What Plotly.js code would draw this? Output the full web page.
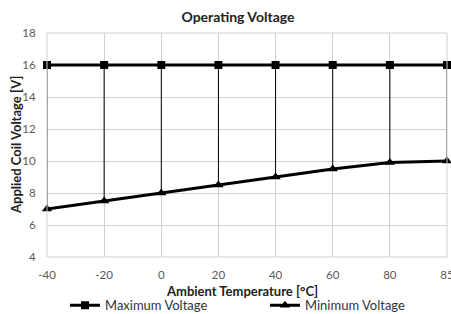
<!DOCTYPE html>
<html><head><meta charset="utf-8">
<script src="https://cdn.plot.ly/plotly-3.0.1.min.js"></script>
<style>html,body{margin:0;padding:0;background:#fff}#c{width:451px;height:314px}</style>
</head><body><div id="c"></div>
<script>
var temps = ['-40','-20','0','20','40','60','80','85'];
var maxVoltage = [16,16,16,16,16,16,16,16];
var minVoltage = [7,7.5,8,8.5,9,9.5,9.9,10];
var diff = maxVoltage.map(function(v,i){return v-minVoltage[i];});
var zeros = minVoltage.map(function(){return 0;});
var fontFam = 'Lato, "Open Sans", sans-serif';
var traces = [
 {x:temps, y:maxVoltage, name:'Maximum Voltage', type:'scatter', mode:'lines+markers', legend:'legend',
  line:{color:'#000',width:3}, marker:{symbol:'square',size:8,color:'#000'}, cliponaxis:false},
 {x:temps, y:minVoltage, name:'Minimum Voltage', type:'scatter', mode:'lines+markers', legend:'legend2',
  line:{color:'#000',width:3}, marker:{symbol:'triangle-up',size:9,color:'#000'}, cliponaxis:false,
  error_y:{type:'data',symmetric:false,array:diff,arrayminus:zeros,width:0,color:'#000',thickness:1}}
];
var legBase = {orientation:'h', xref:'container', yref:'container', xanchor:'left', y:0.028, yanchor:'middle',
  font:{size:13,color:'#333'}, itemwidth:30, bgcolor:'rgba(0,0,0,0)', borderwidth:0};
var layout = {
 width:451, height:314, margin:{l:47,r:4,t:33,b:57,autoexpand:false},
 paper_bgcolor:'#fff', plot_bgcolor:'#fff',
 font:{family:fontFam, color:'#595959', size:11},
 title:{text:'<b>Operating Voltage</b>', font:{size:14,color:'#222',family:fontFam}, xref:'paper', x:0.4775, xanchor:'center', y:0.945, yref:'container', yanchor:'middle'},
 xaxis:{type:'category', range:[0,7], showgrid:true, gridcolor:'#d0d0d0', gridwidth:1, zeroline:false,
  showline:false, ticks:'outside', ticklen:7, tickcolor:'rgba(0,0,0,0)', tickfont:{size:11.5,color:'#595959'}},
 yaxis:{range:[4,18], dtick:2, showgrid:true, gridcolor:'#d0d0d0', gridwidth:1, zeroline:false,
  showline:false, ticks:'outside', ticklen:8, tickcolor:'rgba(0,0,0,0)', tickfont:{size:11.5,color:'#595959'}},
 annotations:[
  {text:'<b>Applied Coil Voltage [V]</b>', textangle:-90, xref:'paper', yref:'paper',
   x:(16-47)/400, y:0.5, xanchor:'center', yanchor:'middle', showarrow:false, font:{size:13,color:'#222'}},
  {text:'<b>Ambient Temperature [°C]</b>', xref:'paper', yref:'paper',
   x:(242-47)/400, y:-(291-257)/224, xanchor:'center', yanchor:'middle', showarrow:false, font:{size:13,color:'#222'}}
 ],
 shapes:[{type:'rect',xref:'paper',yref:'paper',x0:0,x1:1,y0:0,y1:1,line:{color:'#d0d0d0',width:1}}],
 showlegend:true,
 legend:Object.assign({}, legBase, {x:65/451}),
 legend2:Object.assign({}, legBase, {x:265/451})
};
Plotly.newPlot('c', traces, layout, {displayModeBar:false, staticPlot:true});
</script></body></html>
